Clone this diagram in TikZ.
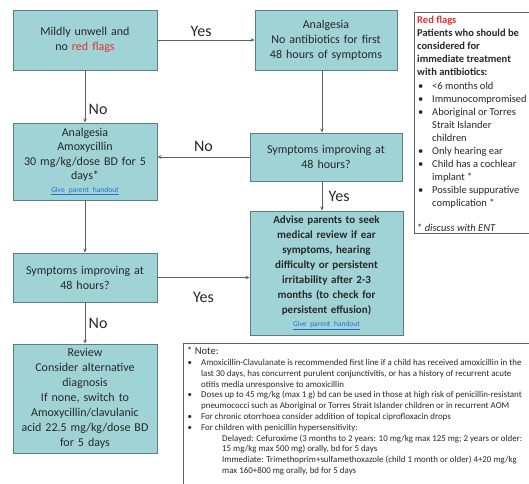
\documentclass[tikz,border=0pt]{standalone}
\usepackage{fontspec}
\setmainfont{Carlito}
\usetikzlibrary{arrows.meta}
\definecolor{boxfill}{RGB}{160,211,213}
\definecolor{boxline}{RGB}{88,128,132}
\definecolor{flagred}{RGB}{225,50,50}
\definecolor{linkblue}{RGB}{40,110,210}
\definecolor{inkgray}{RGB}{40,40,40}
\definecolor{wiregray}{RGB}{95,95,95}
\newcommand{\handout}{{\fontsize{7.5}{9}\selectfont\color{linkblue}\underline{Give parent handout}}}
\newcommand{\rfbul}{\makebox[15pt][l]{\hspace{1pt}\textbullet}}
\newcommand{\rfind}{\hspace*{15pt}}
\newcommand{\ntbul}{\makebox[14pt][l]{\hspace{0.5pt}\textbullet}}
\newcommand{\ntind}{\hspace*{14pt}}
\newcommand{\ntsub}{\hspace*{35pt}}
\tikzset{
    flowbox/.style={draw=boxline, fill=boxfill, line width=0.9pt, align=center,
        inner sep=2pt, text=inkgray, font=\fontsize{12}{15}\selectfont},
    flowline/.style={draw=wiregray, line width=0.7pt, -{Stealth[length=4pt,width=3.5pt]}},
    flowlabel/.style={font=\fontsize{16}{18}\selectfont, text=inkgray},
    sidebox/.style={draw=wiregray, line width=0.8pt}
}
\begin{document}
\begin{tikzpicture}[x=1pt,y=-1pt]
    \useasboundingbox[fill=white] (0,0) rectangle (529,483);
    \clip (0,0) rectangle (529,483);

    % left column
    \node[flowbox, text width=140pt, minimum height=60pt] (mild) at (85,40)
        {Mildly unwell and\\ no \textcolor{flagred}{red flags}};
    \node[flowbox, text width=140pt, minimum height=77pt, font=\fontsize{12}{14.5}\selectfont] (amox) at (85,161.5)
        {Analgesia\\ Amoxycillin\\ 30 mg/kg/dose BD for 5\\ days*\\[-2pt] \handout};
    \node[flowbox, text width=140pt, minimum height=49pt] (checkl) at (85,277.5)
        {Symptoms improving at\\ 48 hours?};
    \node[flowbox, text width=140pt, minimum height=109pt] (review) at (85,398.5)
        {Review\\ Consider alternative\\ diagnosis\\ If none, switch to\\ Amoxycillin/clavulanic\\ acid 22.5 mg/kg/dose BD\\ for 5 days};

    % right column
    \node[flowbox, text width=138pt, minimum height=60pt] (wait) at (326,40)
        {Analgesia\\ No antibiotics for first\\ 48 hours of symptoms};
    \node[flowbox, text width=148pt, minimum height=48pt] (checkr) at (326,157)
        {Symptoms improving at\\ 48 hours?};
    \node[flowbox, text width=149pt, minimum height=124pt,
        font=\fontsize{11}{15}\selectfont\bfseries] (advise) at (326.5,273)
        {Advise parents to seek\\ medical review if ear\\ symptoms, hearing\\ difficulty or persistent\\ irritability after 2-3\\ months (to check for\\ persistent effusion)\\[-2pt] {\mdseries\handout}};

    % connectors
    \draw[flowline] (mild) -- node[flowlabel, above, pos=.45] {Yes} (wait);
    \draw[flowline] (mild) -- node[flowlabel, right, pos=.75] {No} (amox);
    \draw[flowline] ([xshift=-4pt]wait.south) -- ([xshift=-4pt]wait.south |- checkr.north);
    \draw[flowline] (checkr.west) -- node[flowlabel, above, yshift=2pt] {No} (checkr.west -| amox.east);
    \draw[flowline] ([xshift=-4pt]checkr.south) -- node[flowlabel, right=3pt] {Yes} ([xshift=-4pt]checkr.south |- advise.north);
    \draw[flowline] (amox) -- (checkl);
    \draw[flowline] (checkl.east) -- node[flowlabel, below, yshift=-11pt] {Yes} (checkl.east -| advise.west);
    \draw[flowline] (checkl) -- node[flowlabel, right] {No} (review);

    % red flags panel
    \draw[sidebox] (414,12) rectangle (545,233);
    \node[anchor=north west, align=left, inner sep=0pt, text=inkgray,
        font=\fontsize{10.5}{13.1}\selectfont] (redflags) at (417,16)
        {\textcolor{flagred}{\textbf{Red flags}}\\
         \textbf{Patients who should be}\\
         \textbf{considered for}\\
         \textbf{immediate treatment}\\
         \textbf{with antibiotics:}\\
         \rfbul <6 months old\\
         \rfbul Immunocompromised\\
         \rfbul Aboriginal or Torres\\
         \rfind Strait Islander\\
         \rfind children\\
         \rfbul Only hearing ear\\
         \rfbul Child has a cochlear\\
         \rfind implant *\\
         \rfbul Possible suppurative\\
         \rfind complication *\\[11pt]
         * \textit{discuss with ENT}};

    % note panel
    \draw[sidebox] (183,343) rectangle (545,500);
    \node[anchor=north west, align=left, inner sep=0pt, text=inkgray,
        font=\fontsize{8.9}{10.8}\selectfont] (notes) at (187,347)
        {{\fontsize{10.5}{12}\selectfont * Note:}\\
         \ntbul Amoxicillin-Clavulanate is recommended first line if a child has received amoxicillin in the\\
         \ntind last 30 days, has concurrent purulent conjunctivitis, or has a history of recurrent acute\\
         \ntind otitis media unresponsive to amoxicillin\\
         \ntbul Doses up to 45 mg/kg (max 1 g) bd can be used in those at high risk of penicillin-resistant\\
         \ntind pneumococci such as Aboriginal or Torres Strait Islander children or in recurrent AOM\\
         \ntbul For chronic otorrhoea consider addition of topical ciprofloxacin drops\\
         \ntbul For children with penicillin hypersensitivity:\\
         \ntsub Delayed: Cefuroxime (3 months to 2 years: 10 mg/kg max 125 mg; 2 years or older:\\
         \ntsub 15 mg/kg max 500 mg) orally, bd for 5 days\\
         \ntsub Immediate: Trimethoprim+sulfamethoxazole (child 1 month or older) 4+20 mg/kg\\
         \ntsub max 160+800 mg orally, bd for 5 days};
\end{tikzpicture}
\end{document}
